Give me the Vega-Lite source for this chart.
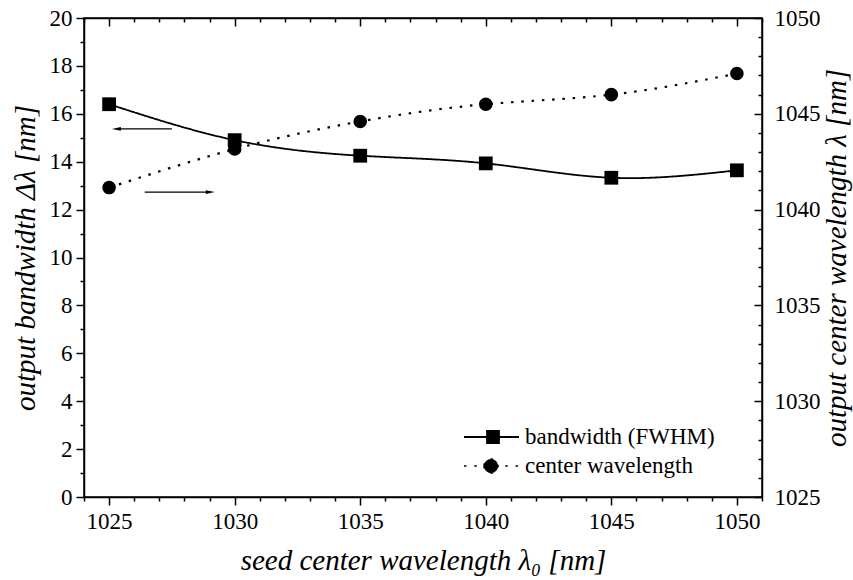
{
  "$schema": "https://vega.github.io/schema/vega-lite/v6.json",
  "width": 678,
  "height": 479,
  "autosize": "none",
  "padding": {"left": 84, "top": 18, "right": 91, "bottom": 83},
  "background": "white",
  "config": {
    "font": "Liberation Serif",
    "view": {"stroke": "black", "strokeWidth": 1.5},
    "axis": {
      "grid": false,
      "domainColor": "black",
      "domainWidth": 1.5,
      "tickColor": "black",
      "tickWidth": 1.5,
      "labelColor": "black",
      "labelFontSize": 23,
      "labelFont": "Liberation Serif",
      "titleColor": "black",
      "titleFont": "Liberation Serif",
      "titleFontSize": 29,
      "titleFontStyle": "italic",
      "titleFontWeight": "normal",
      "labelOverlap": false,
      "labelFlush": false
    },
    "legend": {
      "labelFont": "Liberation Serif",
      "labelFontSize": 23,
      "labelColor": "black",
      "labelLimit": 0
    }
  },
  "datasets": {
    "series": [
      {"x": 1025, "series": "bandwidth (FWHM)", "value": 16.4},
      {"x": 1030, "series": "bandwidth (FWHM)", "value": 14.9},
      {"x": 1035, "series": "bandwidth (FWHM)", "value": 14.25},
      {"x": 1040, "series": "bandwidth (FWHM)", "value": 13.93},
      {"x": 1045, "series": "bandwidth (FWHM)", "value": 13.33},
      {"x": 1050, "series": "bandwidth (FWHM)", "value": 13.64},
      {"x": 1025, "series": "center wavelength", "value": 1041.15},
      {"x": 1030, "series": "center wavelength", "value": 1043.16},
      {"x": 1035, "series": "center wavelength", "value": 1044.6},
      {"x": 1040, "series": "center wavelength", "value": 1045.5},
      {"x": 1045, "series": "center wavelength", "value": 1046.0},
      {"x": 1050, "series": "center wavelength", "value": 1047.1}
    ],
    "arrows": [
      {"x": 1027.5, "x2": 1025.3, "value": 15.37},
      {"x": 1026.42, "x2": 1029.0, "value": 12.73}
    ],
    "heads": [
      {"x": 1025.29, "value": 15.37, "dir": "left"},
      {"x": 1029.03, "value": 12.73, "dir": "right"}
    ]
  },
  "layer": [
    {
      "encoding": {
        "x": {
          "field": "x", "type": "quantitative",
          "scale": {"domain": [1024, 1051], "nice": false, "zero": false},
          "axis": {
            "orient": "bottom",
            "title": "seed center wavelength λ₀ [nm]",
            "values": [1024,1025,1026,1027,1028,1029,1030,1031,1032,1033,1034,1035,1036,1037,1038,1039,1040,1041,1042,1043,1044,1045,1046,1047,1048,1049,1050,1051],
            "format": "d",
            "labelExpr": "datum.value % 5 === 0 ? datum.label : ''",
            "tickSize": {"condition": {"test": "datum.value % 5 === 0", "value": 8}, "value": 4},
            "labelPadding": 5,
            "titlePadding": 13
          }
        },
        "y": {
          "field": "value", "type": "quantitative",
          "scale": {"domain": [0, 20], "nice": false, "zero": false},
          "axis": {
            "orient": "left",
            "title": "output bandwidth Δλ [nm]",
            "values": [0,1,2,3,4,5,6,7,8,9,10,11,12,13,14,15,16,17,18,19,20],
            "labelExpr": "datum.value % 2 === 0 ? datum.label : ''",
            "tickSize": {"condition": {"test": "datum.value % 2 === 0", "value": 8}, "value": 4},
            "labelPadding": 4,
            "titlePadding": 9
          }
        }
      },
      "layer": [
        {
          "data": {"name": "series"},
          "transform": [{"filter": "datum.series === 'bandwidth (FWHM)'"}],
          "mark": {"type": "line", "color": "black", "strokeWidth": 1.8, "interpolate": "natural"},
          "encoding": {
            "strokeDash": {
              "field": "series", "type": "nominal",
              "scale": {"domain": ["bandwidth (FWHM)"], "range": [[1, 0]]},
              "legend": {
                "title": null,
                "orient": "none",
                "legendX": 408,
                "legendY": 405,
                "padding": 0,
                "symbolType": "M-3.23,0H1M-1.46,-0.46H-0.54V0.46H-1.46Z",
                "symbolSize": 676,
                "symbolFillColor": "black",
                "symbolStrokeColor": "black",
                "symbolStrokeWidth": 1.8,
                "symbolOpacity": 1,
                "labelOffset": 5
              }
            }
          }
        },
        {
          "data": {"name": "series"},
          "transform": [{"filter": "datum.series === 'bandwidth (FWHM)'"}],
          "mark": {"type": "point", "shape": "square", "filled": true, "color": "black", "size": 190, "opacity": 1}
        },
        {
          "data": {"name": "arrows"},
          "mark": {"type": "rule", "color": "black", "strokeWidth": 1.3},
          "encoding": {
            "x2": {"field": "x2"}
          }
        },
        {
          "data": {"name": "heads"},
          "mark": {"type": "point", "filled": true, "color": "black", "size": 81, "opacity": 1},
          "encoding": {
            "shape": {"condition": {"test": "datum.dir === 'left'", "value": "M-1,0L1,-0.4L1,0.4Z"}, "value": "M1,0L-1,-0.4L-1,0.4Z"}
          }
        }
      ]
    },
    {
      "encoding": {
        "x": {
          "field": "x", "type": "quantitative",
          "scale": {"domain": [1024, 1051], "nice": false, "zero": false},
          "axis": {
            "orient": "top",
            "title": null,
            "labels": false,
            "values": [1024,1025,1026,1027,1028,1029,1030,1031,1032,1033,1034,1035,1036,1037,1038,1039,1040,1041,1042,1043,1044,1045,1046,1047,1048,1049,1050,1051],
            "tickSize": {"condition": {"test": "datum.value % 5 === 0", "value": -8}, "value": -4}
          }
        },
        "y": {
          "field": "value", "type": "quantitative",
          "scale": {"domain": [1025, 1050], "nice": false, "zero": false},
          "axis": {
            "orient": "right",
            "title": "output center wavelength λ [nm]",
            "titleAngle": 270,
            "values": [1025,1026,1027,1028,1029,1030,1031,1032,1033,1034,1035,1036,1037,1038,1039,1040,1041,1042,1043,1044,1045,1046,1047,1048,1049,1050],
            "format": "d",
            "labelExpr": "datum.value % 5 === 0 ? datum.label : ''",
            "tickSize": {"condition": {"test": "datum.value % 5 === 0", "value": -8}, "value": -4},
            "labelPadding": 20,
            "titlePadding": 31
          }
        }
      },
      "layer": [
        {
          "data": {"name": "series"},
          "transform": [{"filter": "datum.series === 'center wavelength'"}],
          "mark": {"type": "line", "color": "black", "strokeWidth": 2.2, "interpolate": "natural"},
          "encoding": {
            "strokeDash": {
              "field": "series", "type": "nominal",
              "scale": {"domain": ["center wavelength"], "range": [[2.5, 7.8]]},
              "legend": {
                "title": null,
                "orient": "none",
                "legendX": 408,
                "legendY": 434,
                "padding": 0,
                "symbolType": "M-3.23,0H1M-1.69,0A0.54,0.54 0 1,0 -0.61,0A0.54,0.54 0 1,0 -1.69,0Z",
                "symbolSize": 676,
                "symbolFillColor": "black",
                "symbolStrokeColor": "black",
                "symbolStrokeWidth": 1.6,
                "symbolOpacity": 1,
                "labelOffset": 5
              }
            }
          }
        },
        {
          "data": {"name": "series"},
          "transform": [{"filter": "datum.series === 'center wavelength'"}],
          "mark": {"type": "point", "shape": "circle", "filled": true, "color": "black", "size": 185, "opacity": 1}
        }
      ]
    }
  ],
  "resolve": {
    "scale": {"y": "independent", "strokeDash": "independent"},
    "legend": {"strokeDash": "independent"},
    "axis": {"x": "independent", "y": "independent"}
  }
}
